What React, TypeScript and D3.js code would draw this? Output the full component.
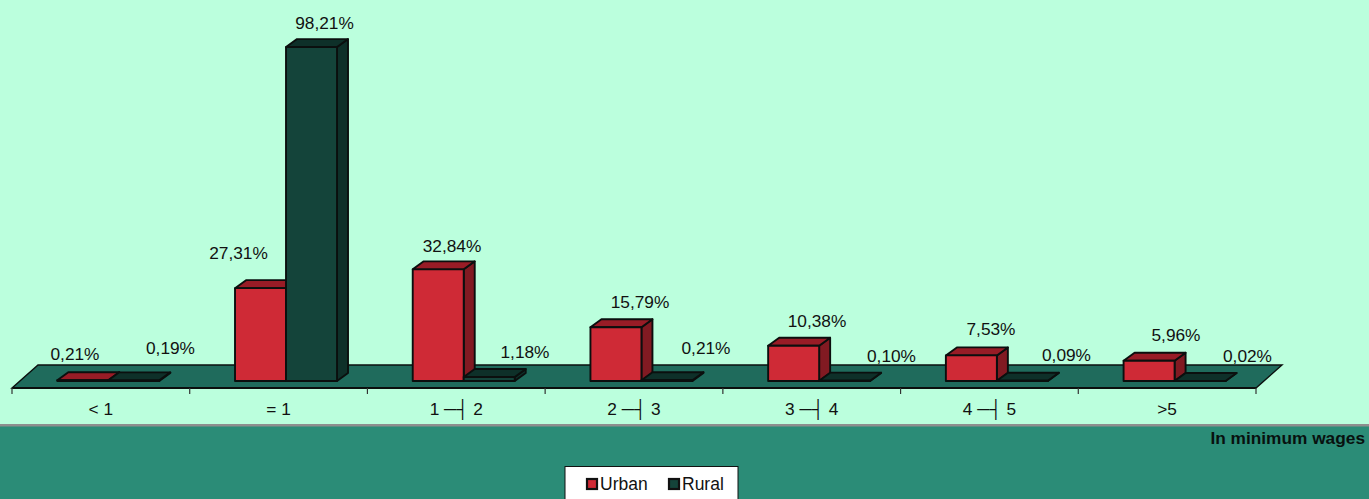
import React from "react";
import * as d3 from "d3";

const categories = ["< 1", "= 1", "1 ─┤ 2", "2 ─┤ 3", "3 ─┤ 4", "4 ─┤ 5", ">5"];
const urban = [0.21, 27.31, 32.84, 15.79, 10.38, 7.53, 5.96];
const rural = [0.19, 98.21, 1.18, 0.21, 0.1, 0.09, 0.02];
const urbanLabels = ["0,21%", "27,31%", "32,84%", "15,79%", "10,38%", "7,53%", "5,96%"];
const ruralLabels = ["0,19%", "98,21%", "1,18%", "0,21%", "0,10%", "0,09%", "0,02%"];

// label anchor positions in pixels (layout only)
const urbanLabelX = [75, 238.5, 452, 640, 817, 991, 1176];
const urbanLabelY = [360, 259, 252, 308, 327, 335, 341];
const ruralLabelX = [170.5, 324.5, 525, 706, 891.5, 1066.5, 1247.5];
const ruralLabelY = [354, 29, 358, 354, 362, 361, 362];

const W = 1369, H = 499;
const FONT = "'Liberation Sans', Arial, sans-serif";
const BG = "#BBFFDD", BAND = "#2B8C77", FLOOR = "#1F6B5C";
const x = d3.scaleLinear().domain([0, 7]).range([12, 1256]);
const y = d3.scaleLinear().domain([0, 100]).range([381, 41]);
const DX = 11, DY = 8, BW = 51, PAD = 45.3;
const DEPTH_X = 26, FLOOR_FRONT = 388, FLOOR_BACK = 365;

const pts = (p: number[][]) => d3.line()(p as [number, number][]) + "Z";

function Bar({ x0, v, front, top, side }: { x0: number; v: number; front: string; top: string; side: string }) {
  const yb = y(0), yt = y(v), x1 = x0 + BW;
  const s = { stroke: "#0B0F0E", strokeWidth: 1.9, strokeLinejoin: "round" as const };
  return (
    <g>
      <path d={pts([[x1, yb], [x1 + DX, yb - DY], [x1 + DX, yt - DY], [x1, yt]])} fill={side} {...s} />
      <path d={pts([[x0, yt], [x0 + DX, yt - DY], [x1 + DX, yt - DY], [x1, yt]])} fill={top} {...s} />
      <path d={pts([[x0, yb], [x1, yb], [x1, yt], [x0, yt]])} fill={front} {...s} />
    </g>
  );
}

export default function App() {
  return (
    <svg width={W} height={H} style={{ position: "fixed", left: 0, top: 0, display: "block" }} fontFamily={FONT}>
      <rect width={W} height={H} fill={BG} />
      <rect y={426} width={W} height={H - 426} fill={BAND} />
      <rect y={424} width={W} height={2.5} fill="#8E8E8E" />
      <path
        d={pts([[x(0), FLOOR_FRONT], [x(0) + DEPTH_X, FLOOR_BACK], [x(7) + DEPTH_X, FLOOR_BACK], [x(7), FLOOR_FRONT]])}
        fill={FLOOR} stroke="#0B0F0E" strokeWidth={1.4}
      />
      <line x1={x(0)} x2={x(7)} y1={FLOOR_FRONT} y2={FLOOR_FRONT} stroke="#0B0F0E" strokeWidth={2.2} />
      {d3.range(8).map((i) => (
        <line key={i} x1={x(i)} x2={x(i)} y1={FLOOR_FRONT} y2={394} stroke="#333" strokeWidth={1.2} />
      ))}
      {categories.map((c, i) => {
        const x0 = x(i) + PAD;
        return (
          <g key={c}>
            <Bar x0={x0} v={urban[i]} front="#CF2A36" top="#981C26" side="#811A22" />
            <Bar x0={x0 + BW} v={rural[i]} front="#14443A" top="#0E3029" side="#0E3029" />
            <text x={x(i + 0.5)} y={415} textAnchor="middle" fontSize={17.3} fill="#111">{c}</text>
            <text x={urbanLabelX[i]} y={urbanLabelY[i]} textAnchor="middle" fontSize={17.3} fill="#111">{urbanLabels[i]}</text>
            <text x={ruralLabelX[i]} y={ruralLabelY[i]} textAnchor="middle" fontSize={17.3} fill="#111">{ruralLabels[i]}</text>
          </g>
        );
      })}
      <text x={1365} y={444} textAnchor="end" fontSize={17.3} fontWeight={700} fill="#08110F">In minimum wages</text>
      <rect x={565} y={466.5} width={173} height={40} fill="#fff" stroke="#111" strokeWidth={1} />
      <rect x={587} y={479} width={10} height={10} fill="#CF2A36" stroke="#111" strokeWidth={2.2} />
      <text x={600} y={490} fontSize={17.5} fill="#111">Urban</text>
      <rect x={669} y={479} width={10} height={10} fill="#14443A" stroke="#111" strokeWidth={2.2} />
      <text x={682} y={490} fontSize={17.5} fill="#111">Rural</text>
    </svg>
  );
}
